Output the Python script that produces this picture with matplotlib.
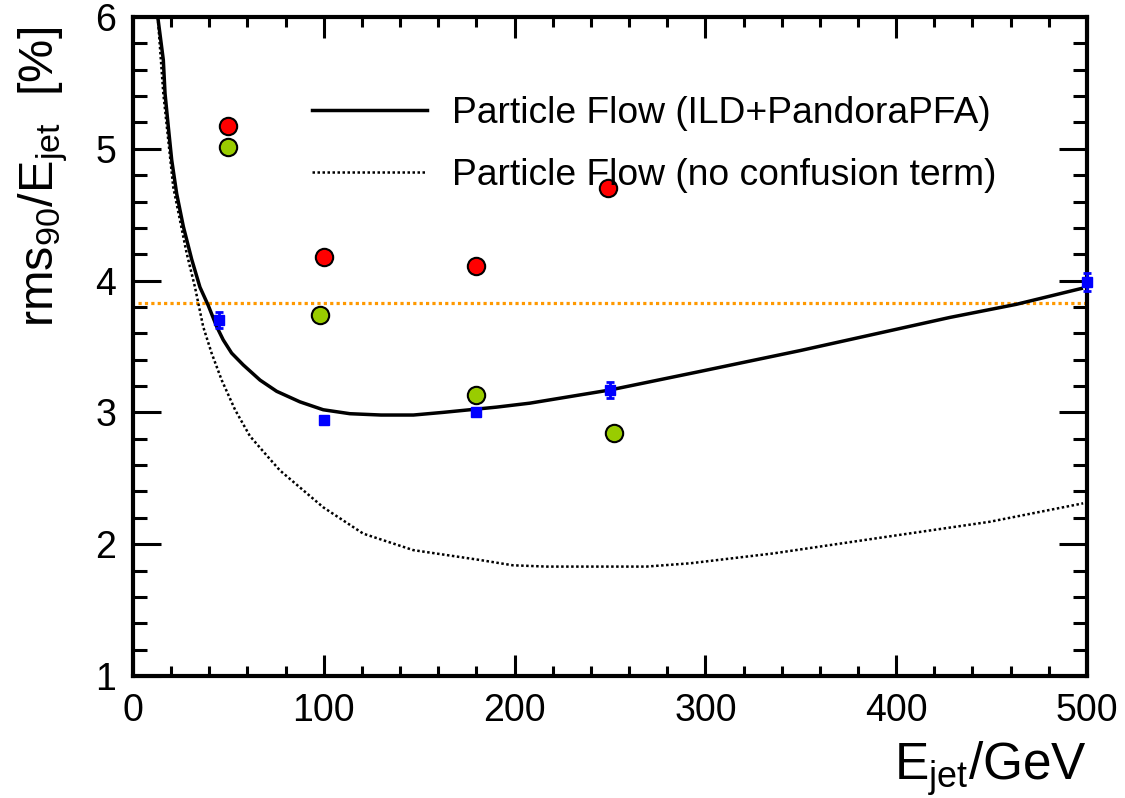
import numpy as np
import matplotlib
matplotlib.use("Agg")
import matplotlib.pyplot as plt
from matplotlib.ticker import MultipleLocator

plt.rcParams['font.family'] = ['Liberation Sans', 'DejaVu Sans']
plt.rcParams['mathtext.fontset'] = 'custom'
plt.rcParams['mathtext.rm'] = 'Liberation Sans'
plt.rcParams['mathtext.it'] = 'Liberation Sans:italic'
plt.rcParams['mathtext.default'] = 'regular'

# jet energy resolution curves (ILD + PandoraPFA)
pfa_e = [13, 15.9, 16.8, 18.5, 20.3, 22.9, 26.4, 30.8, 35.1, 39.5, 43.9, 47.3,
         51.7, 57.8, 66.6, 75.3, 87.5, 99.7, 113.7, 130, 147, 162.5, 190.6,
         208, 250, 297, 350, 428, 463, 497]
pfa_res = [6.0, 5.674, 5.42, 5.17, 4.915, 4.66, 4.41, 4.16, 3.95, 3.81, 3.65, 3.55,
           3.45, 3.36, 3.245, 3.16, 3.08, 3.02, 2.99, 2.98, 2.98, 3.00, 3.04,
           3.07, 3.17, 3.31, 3.47, 3.72, 3.82, 3.94]

noconf_e = [13, 15.9, 21.1, 24.6, 28.1, 32.5, 36.8, 41.2, 46.5, 53.5, 61.3, 70.9,
            77, 99.7, 120.7, 146.9, 181.9, 199, 216.8, 269, 292, 335.6, 396.8,
            449, 498]
noconf_res = [6.0, 5.42, 4.71, 4.46, 4.21, 3.95, 3.65, 3.45, 3.245, 3.02, 2.82, 2.66,
              2.56, 2.28, 2.08, 1.955, 1.88, 1.84, 1.83, 1.83, 1.855, 1.93, 2.06,
              2.17, 2.31]

# full simulation points with errors
sim_e = [45, 100, 180, 250, 500]
sim_res = [3.70, 2.94, 3.00, 3.17, 3.99]
sim_err = [0.06, 0.02, 0.02, 0.06, 0.07]

red_e = [50, 100, 180, 249]
red_res = [5.17, 4.18, 4.11, 4.70]

green_e = [50, 98, 180, 252]
green_res = [5.01, 3.74, 3.13, 2.84]

ref_level = 3.83

fig = plt.figure(figsize=(11.25, 7.98), dpi=100)
ax = fig.add_axes([0.1182, 0.1529, 0.848, 0.8258])

ax.axhline(ref_level, xmin=0.005, xmax=1.0, color='#ff9900', lw=2.3,
           linestyle=(0, (1, 1)), zorder=1)

ax.plot(pfa_e, pfa_res, color='black', lw=2.5, solid_joinstyle='round',
        label='Particle Flow (ILD+PandoraPFA)', zorder=3)
ax.plot(noconf_e, noconf_res, color='black', lw=1.8, linestyle=(0, (1, 1)),
        label='Particle Flow (no confusion term)', zorder=3)

ax.errorbar(sim_e, sim_res, yerr=sim_err, fmt='s', color='#0000ff', ms=6.5,
            elinewidth=2, capsize=3, capthick=2, zorder=4, clip_on=False)
ax.plot(red_e, red_res, 'o', ms=12.5, mfc='#ff0000', mec='black', mew=1.5, zorder=5)
ax.plot(green_e, green_res, 'o', ms=12.5, mfc='#99cc00', mec='black', mew=1.5, zorder=5)

ax.set_xlim(0, 500)
ax.set_ylim(1, 6)
ax.xaxis.set_major_locator(MultipleLocator(100))
ax.xaxis.set_minor_locator(MultipleLocator(20))
ax.yaxis.set_major_locator(MultipleLocator(1))
ax.yaxis.set_minor_locator(MultipleLocator(0.2))

for s in ax.spines.values():
    s.set_linewidth(3)
ax.tick_params(which='both', direction='in', top=True, right=True, width=2.2,
               labelsize=27)
ax.tick_params(axis='x', which='major', length=15, pad=12)
ax.tick_params(axis='x', which='minor', length=7)
ax.tick_params(axis='y', which='major', length=20, pad=12)
ax.tick_params(axis='y', which='minor', length=10)

ax.set_xlabel('E$_{jet}$/GeV', fontsize=37, loc='right', labelpad=8)
ax.set_ylabel('rms$_{90}$/E$_{jet}$  [%]', fontsize=35, loc='top')
ax.yaxis.set_label_coords(-0.066, 1 - 10 / 659)

ax.legend(loc='upper left', bbox_to_anchor=(0.277, 0.880),
          bbox_transform=fig.transFigure, frameon=False, fontsize=26.8,
          handlelength=3.1, handletextpad=0.68, labelspacing=0.74,
          borderpad=0, borderaxespad=0)

fig.savefig('out.png', dpi=100)
